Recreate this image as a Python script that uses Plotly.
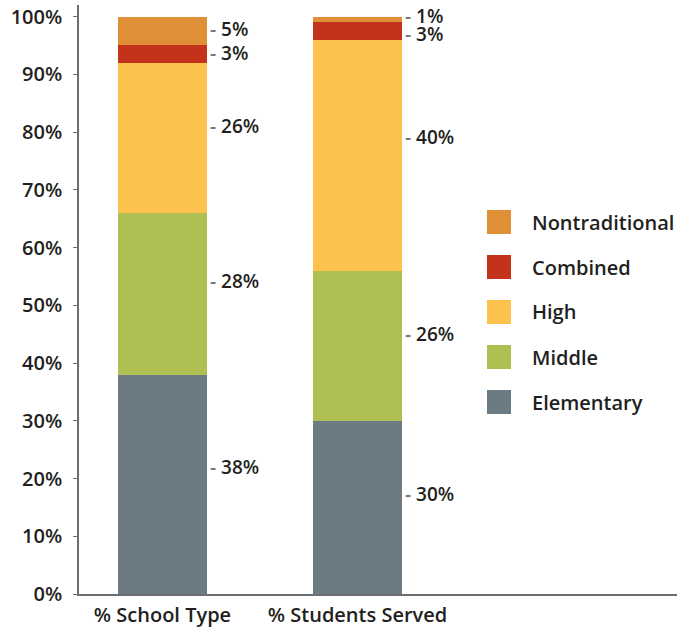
import plotly.graph_objects as go

# Share of schools by type vs. share of students served
columns = ["% School Type", "% Students Served"]
segments = ["Elementary", "Middle", "High", "Combined", "Nontraditional"]
school_type = [38, 28, 26, 3, 5]
students_served = [30, 26, 40, 3, 1]
colors = ["#6B7A83", "#AFBF52", "#FDC24D", "#C3321B", "#DF9036"]
y_ticks = [0, 10, 20, 30, 40, 50, 60, 70, 80, 90, 100]

FONT = "Open Sans"
TXT = "#231f20"
BAR_W = 0.456

fig = go.Figure()
series_by_col = [school_type, students_served]
for i, seg in enumerate(segments):
    fig.add_trace(go.Bar(
        x=columns,
        y=[school_type[i], students_served[i]],
        name=seg,
        marker=dict(color=colors[i], line=dict(width=0)),
        width=BAR_W,
        showlegend=False,
        hoverinfo="x+y+name",
    ))

# value labels to the right of each stacked segment
nudge = {(1, 4): 3, (1, 3): -4}
for c, vals in enumerate(series_by_col):
    base = 0
    for i, v in enumerate(vals):
        fig.add_annotation(
            x=c + BAR_W / 2, y=base + 0.58 * v, xref="x", yref="y",
            text=f"<span style='color:#777'>-</span>&nbsp;{v}%",
            showarrow=False, xanchor="left", yanchor="middle",
            xshift=1, yshift=nudge.get((c, i), 0),
            font=dict(family=FONT, size=19, color=TXT, weight=600),
        )
        base += v

# legend drawn as swatches + labels, top item first
PLOT_TOP, PLOT_BOT, PLOT_L, PLOT_R = 5, 594, 79, 677
def px_to_paper_y(py):
    return (PLOT_BOT - py) / (PLOT_BOT - PLOT_TOP)
def px_to_paper_x(px):
    return (px - PLOT_L) / (PLOT_R - PLOT_L)

legend_order = list(range(len(segments)))[::-1]
for k, i in enumerate(legend_order):
    cy = 222 + k * 45
    fig.add_shape(
        type="rect", xref="paper", yref="paper",
        x0=px_to_paper_x(487), x1=px_to_paper_x(511),
        y0=px_to_paper_y(cy + 12), y1=px_to_paper_y(cy - 12),
        fillcolor=colors[i], line=dict(width=0),
    )
    fig.add_annotation(
        x=px_to_paper_x(530), y=px_to_paper_y(cy), xref="paper", yref="paper",
        text=segments[i], showarrow=False, xanchor="left", yanchor="middle",
        font=dict(family=FONT, size=20, color=TXT, weight=600),
    )

fig.update_layout(
    barmode="stack",
    width=677, height=628,
    margin=dict(l=PLOT_L, r=0, t=PLOT_TOP, b=628 - PLOT_BOT),
    paper_bgcolor="white", plot_bgcolor="white",
    font=dict(family=FONT, size=19, color=TXT, weight=600),
    xaxis=dict(
        type="category", range=[-0.428, 2.638],
        showline=True, linecolor="#6d6e71", linewidth=1.5,
        ticks="", showgrid=False, zeroline=False,
        ticklabelstandoff=2,
        tickfont=dict(family=FONT, size=20, color=TXT, weight=600),
    ),
    yaxis=dict(
        range=[0, 102.0], tickvals=y_ticks,
        ticktext=[f"{t}%" for t in y_ticks],
        showline=True, linecolor="#6d6e71", linewidth=1.5,
        ticks="outside", ticklen=4, tickcolor="#6d6e71", tickwidth=1,
        showgrid=False, zeroline=False,
        ticklabelstandoff=7,
        tickfont=dict(family=FONT, size=20, color=TXT, weight=600),
    ),
    showlegend=False,
)

fig.write_html("out.html")
